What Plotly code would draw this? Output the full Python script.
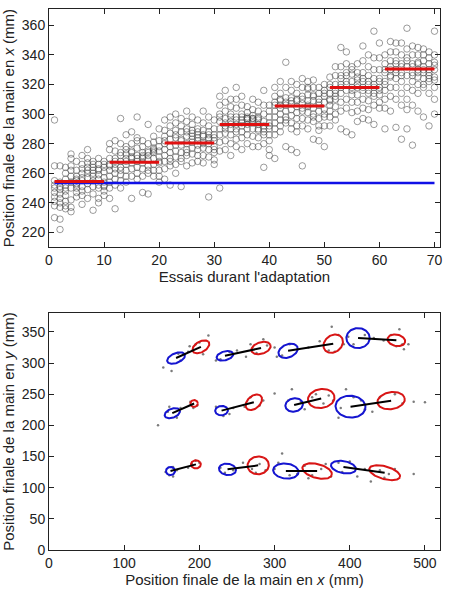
import numpy as np
import plotly.graph_objects as go

# ---------------- Top panel data ----------------
block1 = [
    [296, 265, 255, 250, 247, 244, 238, 230, 252, 241],
    [265, 254, 249, 246, 243, 237, 229, 222, 251, 240],
    [264, 256, 252, 248, 245, 241, 236, 260, 250, 238],
    [273, 270, 265, 258, 254, 250, 242, 237, 234, 262],
    [268, 262, 256, 252, 250, 247, 244, 258, 253, 255],
    [272, 266, 260, 255, 251, 248, 239, 245, 257, 263],
    [276, 270, 264, 260, 257, 253, 249, 243, 267, 262],
    [268, 266, 262, 258, 255, 251, 246, 235, 264, 260],
    [270, 266, 263, 259, 256, 252, 250, 240, 243, 262],
    [268, 264, 261, 257, 254, 251, 248, 245, 266, 252],
]
block2 = [
    [276, 270, 266, 262, 258, 254, 250, 243, 280, 265],
    [282, 275, 270, 266, 263, 260, 256, 252, 236, 268],
    [297, 280, 274, 268, 264, 259, 255, 250, 272, 262],
    [286, 278, 273, 270, 266, 262, 258, 254, 276, 268],
    [288, 280, 275, 271, 267, 263, 258, 243, 270, 274],
    [298, 284, 277, 272, 268, 264, 260, 256, 282, 270],
    [282, 278, 274, 271, 267, 263, 258, 247, 272, 270],
    [293, 280, 275, 272, 269, 265, 260, 246, 274, 262],
    [285, 281, 277, 274, 270, 266, 262, 258, 275, 276],
    [290, 282, 278, 275, 271, 267, 262, 258, 268, 254],
]
block3 = [
    [296, 289, 285, 280, 276, 272, 268, 263, 256, 282],
    [298, 292, 287, 283, 278, 274, 268, 265, 270, 252],
    [300, 294, 289, 284, 279, 275, 271, 266, 260, 286],
    [297, 292, 288, 283, 279, 274, 270, 251, 268, 282],
    [302, 295, 290, 285, 280, 276, 272, 265, 288, 274],
    [298, 293, 289, 285, 281, 277, 273, 267, 283, 287],
    [296, 290, 286, 282, 279, 276, 272, 268, 288, 284],
    [302, 294, 289, 285, 281, 277, 272, 267, 286, 280],
    [298, 292, 288, 284, 280, 276, 271, 244, 286, 283],
    [296, 290, 286, 282, 278, 274, 269, 266, 284, 276],
]
block4 = [
    [312, 306, 300, 295, 290, 286, 281, 275, 250, 298],
    [316, 308, 302, 297, 292, 287, 282, 276, 294, 290],
    [310, 305, 300, 295, 290, 286, 280, 272, 298, 293],
    [318, 310, 304, 298, 293, 288, 283, 278, 296, 290],
    [312, 306, 300, 296, 292, 288, 284, 276, 298, 294],
    [305, 301, 298, 296, 293, 290, 286, 280, 297, 297],
    [310, 303, 299, 297, 294, 290, 285, 278, 296, 297],
    [308, 302, 298, 296, 293, 289, 284, 278, 297, 290],
    [316, 306, 300, 295, 290, 286, 280, 264, 292, 288],
    [306, 302, 298, 294, 290, 286, 282, 276, 272, 292],
]
block5 = [
    [318, 312, 306, 302, 298, 294, 290, 286, 270, 308],
    [322, 314, 309, 304, 300, 296, 292, 288, 310, 306],
    [335, 318, 311, 306, 302, 298, 294, 278, 308, 296],
    [322, 316, 311, 307, 303, 299, 294, 276, 309, 290],
    [320, 314, 309, 305, 301, 297, 292, 274, 288, 310],
    [324, 318, 312, 307, 302, 297, 292, 265, 304, 310],
    [322, 317, 313, 309, 305, 301, 296, 290, 318, 306],
    [323, 318, 313, 309, 304, 300, 295, 283, 298, 312],
    [318, 314, 310, 306, 302, 297, 292, 282, 289, 308],
    [320, 316, 312, 308, 303, 298, 292, 278, 314, 300],
]
block6 = [
    [325, 318, 314, 310, 306, 302, 298, 292, 320, 309],
    [332, 326, 320, 314, 310, 305, 300, 296, 316, 312],
    [345, 332, 326, 320, 314, 308, 302, 290, 318, 324],
    [342, 334, 328, 322, 316, 310, 304, 288, 320, 326],
    [332, 327, 322, 318, 313, 308, 301, 286, 316, 330],
    [334, 328, 323, 318, 313, 308, 302, 295, 325, 320],
    [346, 336, 328, 322, 316, 310, 304, 297, 318, 324],
    [340, 332, 326, 320, 314, 309, 303, 296, 322, 316],
    [356, 338, 330, 324, 318, 312, 306, 293, 320, 314],
    [348, 338, 330, 324, 318, 313, 308, 304, 322, 316],
]
block7 = [
    [340, 334, 328, 322, 316, 310, 304, 290, 330, 320],
    [349, 342, 336, 330, 325, 318, 312, 302, 332, 326],
    [348, 342, 336, 330, 324, 318, 310, 291, 334, 328],
    [348, 340, 334, 328, 322, 314, 306, 283, 332, 326],
    [358, 344, 338, 332, 326, 318, 310, 290, 336, 303],
    [346, 340, 334, 328, 322, 316, 306, 279, 332, 326],
    [345, 340, 335, 330, 325, 320, 314, 302, 334, 328],
    [344, 340, 336, 332, 328, 324, 318, 298, 330, 320],
    [342, 338, 334, 330, 326, 322, 314, 292, 328, 324],
    [356, 340, 335, 330, 325, 318, 310, 300, 333, 323],
]
blocks = [block1, block2, block3, block4, block5, block6, block7]
block_starts = [1, 11, 21, 31, 41, 51, 61]
block_ends = [10, 20, 30, 40, 50, 60, 70]
block_means = [254.5, 267.5, 280.5, 293, 305.5, 318, 330.5]
baseline_value = 253.5
baseline_trials = [1, 70]

top_xticks = [0, 10, 20, 30, 40, 50, 60, 70]
top_yticks = [220, 240, 260, 280, 300, 320, 340, 360]

# ---------------- Bottom panel data ----------------
# ellipse: centre x, centre y, semi-axis a, semi-axis b, angle (deg)
blue_cx = [169, 234, 318, 411, 164, 229.5, 326, 401, 161.6, 237.4, 315, 391.6]
blue_cy = [308, 311.5, 319.5, 340, 219.5, 223.6, 232.7, 230, 126.7, 129.4, 126.7, 133]
blue_a = [13, 11.5, 14, 15.5, 11, 8.5, 12, 20, 6, 11.5, 17, 17]
blue_b = [7.5, 7, 10, 16, 7, 7.5, 10.5, 17.5, 6.5, 9, 12, 9.5]
blue_ang = [30, 20, 35, 0, 30, 10, 30, -10, 0, -15, -10, -15]

red_cx = [202, 282, 378, 462, 193, 272.4, 362, 455, 195.4, 278.2, 356.6, 446.4]
red_cy = [326, 324, 331, 336.5, 235, 237, 243, 239.6, 137.4, 135.8, 126.7, 124]
red_a = [13, 13.5, 15.5, 12, 5, 14, 18, 18.5, 6.5, 14.5, 20.5, 21.5]
red_b = [8, 9, 12, 9, 5.5, 9, 15, 13.5, 6.5, 14, 11, 10]
red_ang = [40, 25, 60, -20, 0, 55, 20, 15, 30, 60, -20, -20]

dots_x = [152, 163, 175, 172, 185, 195, 200, 212, 205, 187,
          222, 228, 240, 262, 268, 290, 285, 276, 250,
          303, 300, 310, 320, 345, 360, 372, 385, 392, 376, 380,
          398, 405, 420, 432, 445, 455, 462, 470, 478, 466, 472,
          145, 158, 170, 175, 188, 197, 192, 160,
          222, 232, 245, 260, 268, 285, 280, 300, 240,
          318, 323, 335, 340, 355, 365, 372, 378, 385, 350,
          388, 395, 405, 420, 430, 440, 460, 470, 485, 500, 415,
          155, 160, 165, 170, 185, 195, 200, 190, 165,
          228, 234, 245, 258, 270, 280, 288, 275, 300,
          305, 310, 320, 330, 340, 350, 362, 368, 375, 345,
          385, 390, 400, 410, 420, 428, 440, 452, 460, 485, 446]
dots_y = [293, 287, 304, 315, 318, 330, 333, 344, 314, 327,
          304, 306, 318, 310, 330, 328, 338, 316, 320,
          310, 325, 312, 330, 325, 335, 320, 345, 330, 358, 318,
          342, 330, 345, 340, 336, 345, 327, 330, 330, 354, 322,
          200, 222, 212, 228, 238, 232, 228, 230,
          230, 215, 228, 230, 245, 240, 232, 251, 218,
          240, 258, 238, 226, 250, 235, 248, 240, 212, 245,
          228, 258, 245, 226, 222, 245, 250, 235, 238, 237, 240,
          125, 120, 133, 128, 132, 143, 140, 138, 118,
          132, 124, 128, 140, 130, 138, 128, 124, 130,
          140, 155, 120, 122, 135, 120, 130, 138, 118, 115,
          140, 125, 142, 118, 130, 110, 128, 122, 130, 122, 116]

bottom_xticks = [0, 100, 200, 300, 400, 500]
bottom_yticks = [0, 50, 100, 150, 200, 250, 300, 350]


def ellipse_path(cx, cy, a, b, ang):
    xs, ys = [], []
    t = np.linspace(0, 2 * np.pi, 90)
    for i in range(len(cx)):
        th = np.deg2rad(ang[i])
        ex = cx[i] + a[i] * np.cos(t) * np.cos(th) - b[i] * np.sin(t) * np.sin(th)
        ey = cy[i] + a[i] * np.cos(t) * np.sin(th) + b[i] * np.sin(t) * np.cos(th)
        xs += list(ex) + [None]
        ys += list(ey) + [None]
    return xs, ys


fig = go.Figure()

# top scatter
sx, sy = [], []
for bi, blk in enumerate(blocks):
    for ti, vals in enumerate(blk):
        trial = block_starts[bi] + ti
        sx += [trial] * len(vals)
        sy += vals
fig.add_trace(go.Scatter(x=sx, y=sy, mode="markers", xaxis="x", yaxis="y",
                         marker=dict(symbol="circle-open", size=6.5,
                                     color="rgba(70,70,70,0.6)", line=dict(width=0.9)),
                         showlegend=False, hoverinfo="skip"))
# blue baseline
fig.add_trace(go.Scatter(x=baseline_trials, y=[baseline_value] * 2, mode="lines",
                         xaxis="x", yaxis="y", line=dict(color="#1010e6", width=2.5),
                         showlegend=False))
# red block means
rx, ry = [], []
for s, e, m in zip(block_starts, block_ends, block_means):
    rx += [s, e, None]
    ry += [m, m, None]
fig.add_trace(go.Scatter(x=rx, y=ry, mode="lines", xaxis="x", yaxis="y",
                         line=dict(color="#e01010", width=3), showlegend=False))

# bottom: dots
fig.add_trace(go.Scatter(x=dots_x, y=dots_y, mode="markers", xaxis="x2", yaxis="y2",
                         marker=dict(size=2.5, color="rgba(90,90,90,0.8)"),
                         showlegend=False, hoverinfo="skip"))
bx, by = ellipse_path(blue_cx, blue_cy, blue_a, blue_b, blue_ang)
fig.add_trace(go.Scatter(x=bx, y=by, mode="lines", xaxis="x2", yaxis="y2",
                         line=dict(color="#1515d0", width=2), showlegend=False))
qx, qy = ellipse_path(red_cx, red_cy, red_a, red_b, red_ang)
fig.add_trace(go.Scatter(x=qx, y=qy, mode="lines", xaxis="x2", yaxis="y2",
                         line=dict(color="#d81515", width=2), showlegend=False))
lx, ly = [], []
for i in range(len(blue_cx)):
    lx += [blue_cx[i], red_cx[i], None]
    ly += [blue_cy[i], red_cy[i], None]
fig.add_trace(go.Scatter(x=lx, y=ly, mode="lines", xaxis="x2", yaxis="y2",
                         line=dict(color="black", width=2), showlegend=False))

axis_common = dict(showline=True, linecolor="#222", linewidth=1, mirror="ticks",
                   ticks="inside", ticklen=5, tickcolor="#222", showgrid=False,
                   zeroline=False, tickfont=dict(size=14, color="#222"))
font_family = "Liberation Sans, Arial, sans-serif"

fig.update_layout(
    width=450, height=595,
    margin=dict(l=47, r=9, t=8, b=45),
    paper_bgcolor="white", plot_bgcolor="white",
    font=dict(family=font_family, color="#222"),
    xaxis=dict(**axis_common, domain=[0, 1], range=[0, 71], tickvals=top_xticks,
               anchor="y",
               title=dict(text="Essais durant l'adaptation", font=dict(size=15), standoff=4)),
    yaxis=dict(**axis_common, domain=[0.5596, 1], range=[210, 371], tickvals=top_yticks,
               anchor="x",
               title=dict(text="Position finale de la main en <i>x</i> (mm)",
                          font=dict(size=15), standoff=3)),
    xaxis2=dict(**axis_common, domain=[0, 1], range=[0, 520], tickvals=bottom_xticks,
                anchor="y2",
                title=dict(text="Position finale de la main en <i>x</i> (mm)",
                           font=dict(size=15), standoff=4)),
    yaxis2=dict(**axis_common, domain=[0, 0.4378], range=[0, 380], tickvals=bottom_yticks,
                anchor="x2",
                title=dict(text="Position finale de la main en <i>y</i> (mm)",
                           font=dict(size=15), standoff=3)),
)

fig.write_html("out.html")
